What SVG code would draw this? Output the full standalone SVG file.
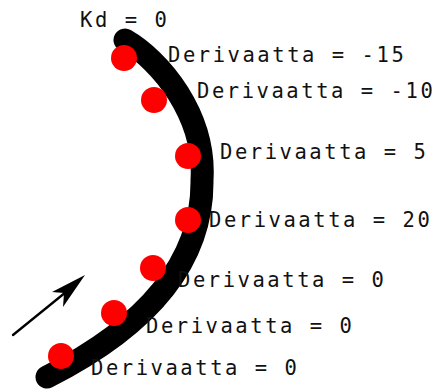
<svg xmlns="http://www.w3.org/2000/svg" width="436" height="392" viewBox="0 0 436 392">
<style>
.lbl{font-family:"DejaVu Sans Mono","Liberation Mono",monospace;font-size:20.5px;letter-spacing:2.55px;fill:#111}
.dot{fill:#f00}
.curve{fill:none;stroke:#000;stroke-width:23;stroke-linecap:round}
</style>
<rect width="436" height="392" fill="#fff"/>
<g id="connectors">
<path class="curve" d="M125,40 C160,60 206,115 202,180 C203,260 150,325 47,377"/>
<path d="M13,335 L66,292" stroke="#000" stroke-width="2.3" fill="none" stroke-linecap="round"/>
<polygon points="85,275 52,292 64,293 63,307" fill="#000"/>
</g>
<g id="kd"><text class="lbl" x="80" y="27">Kd = 0</text></g>
<g id="p1"><circle class="dot" cx="124" cy="58" r="13"/><text class="lbl" x="168" y="62">Derivaatta = -15</text></g>
<g id="p2"><circle class="dot" cx="154" cy="100" r="13"/><text class="lbl" x="197" y="98">Derivaatta = -10</text></g>
<g id="p3"><circle class="dot" cx="188" cy="156" r="13"/><text class="lbl" x="220" y="159">Derivaatta = 5</text></g>
<g id="p4"><circle class="dot" cx="188" cy="220" r="13"/><text class="lbl" x="209" y="227">Derivaatta = 20</text></g>
<g id="p5"><circle class="dot" cx="153" cy="268" r="13"/><text class="lbl" x="178" y="287">Derivaatta = 0</text></g>
<g id="p6"><circle class="dot" cx="114" cy="313" r="13"/><text class="lbl" x="146" y="333">Derivaatta = 0</text></g>
<g id="p7"><circle class="dot" cx="61" cy="356" r="13"/><text class="lbl" x="91" y="375">Derivaatta = 0</text></g>
</svg>
